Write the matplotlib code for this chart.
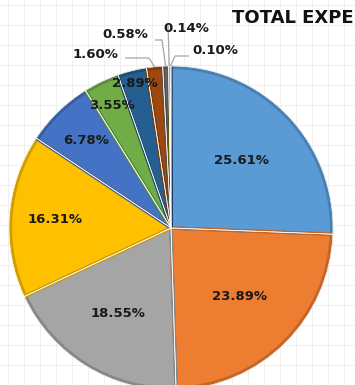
import numpy as np
import matplotlib
matplotlib.use("Agg")
import matplotlib.pyplot as plt
from matplotlib.patches import Wedge
from matplotlib.colors import to_rgb

# expense shares, clockwise from 12 o'clock
shares = [25.61, 23.89, 18.55, 16.31, 6.78, 3.55, 2.89, 1.60, 0.58, 0.14, 0.10]
labels = ["%.2f%%" % s for s in shares]
colors = ["#5B9BD5", "#ED7D31", "#A5A5A5", "#FFC000", "#4472C4", "#70AD47",
          "#255E91", "#9E480E", "#636363", "#997300", "#264478"]
title = "TOTAL EXPE"

W, H = 355, 385
CX, CY, R = 171, H - 228, 162

# radial position (fraction of R) for the labels drawn inside the slices
inner_frac = [0.60, 0.60, 0.62, 0.72, 0.75, 0.84, 0.92]
# text spots (pixels from top-left) and leader bends for the thin slices
outer_text = [(95, 55), (125, 34), (186, 28), (215, 50)]
outer_bend = [(149, 58), (162, 40), (168, 24), (175, 56)]


def darker(c, f=0.82):
    r, g, b = to_rgb(c)
    return (r * f, g * f, b * f)


fig = plt.figure(figsize=(W / 100, H / 100), dpi=100)
ax = fig.add_axes([0, 0, 1, 1])

# spreadsheet cell lines behind the chart
for x in np.arange(8, W, 16):
    ax.axvline(x, color="#ededed", lw=0.6, zorder=0)
for y in np.arange(H - 5, 0, -20):
    ax.axhline(y, color="#ededed", lw=0.6, zorder=0)

wedges, _ = ax.pie(shares, colors=colors, startangle=90, counterclock=False,
                   center=(CX, CY), radius=R, frame=False,
                   wedgeprops=dict(linewidth=0.5, edgecolor="white"))
for w in wedges:
    w.set_zorder(2)
# darker inner rim on each slice
for w, c in zip(wedges, colors):
    ax.add_patch(Wedge((CX, CY), R - 1.5, w.theta1, w.theta2,
                       facecolor="none", edgecolor=darker(c),
                       lw=2.4, zorder=3))
for w in wedges:
    ax.add_patch(Wedge((CX, CY), R, w.theta1, w.theta2,
                       facecolor="none", edgecolor="white",
                       lw=0.5, zorder=4))

txt = dict(fontsize=9.5, fontweight="bold", color="#1a1a1a",
           ha="center", va="center", zorder=6)

for w, lab, f in zip(wedges, labels, inner_frac):
    mid = np.deg2rad((w.theta1 + w.theta2) / 2)
    ax.text(CX + f * R * np.cos(mid), CY + f * R * np.sin(mid), lab, **txt)

for w, lab, (tx, ty), (bx, by) in zip(wedges[len(inner_frac):],
                                      labels[len(inner_frac):],
                                      outer_text, outer_bend):
    mid = np.deg2rad((w.theta1 + w.theta2) / 2)
    px, py = CX + R * np.cos(mid), CY + R * np.sin(mid)
    ax.text(tx, H - ty, lab, **txt)
    if lab == labels[-2]:
        sx, sy = bx, H - by
    elif lab == labels[-1]:
        sx, sy = tx - 26, H - by
    else:
        sx, sy = tx + 30, H - by
    ax.plot([sx, bx, px], [sy, H - by, py], color="#a6a6a6", lw=0.9,
            zorder=5, solid_capstyle="butt")

ax.text(232, H - 18, title, fontsize=13, fontweight="bold",
        color="#111111", ha="left", va="center", zorder=6)

ax.set_xlim(0, W)
ax.set_ylim(0, H)
ax.set_aspect("equal")
ax.axis("off")
fig.savefig("out.png", dpi=100)
